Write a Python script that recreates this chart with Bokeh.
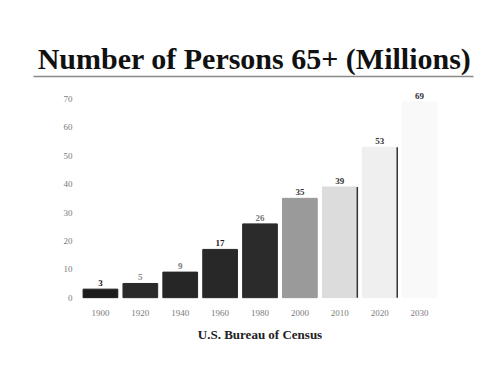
from bokeh.plotting import figure
from bokeh.models import ColumnDataSource, Range1d, FactorRange, FixedTicker
from bokeh.layouts import column
from bokeh.transform import dodge
from bokeh.core.properties import value
from bokeh.embed import file_html
from bokeh.resources import INLINE

years = ["1900", "1920", "1940", "1960", "1980", "2000", "2010", "2020", "2030"]
persons = [3, 5, 9, 17, 26, 35, 39, 53, 69]
bar_colors = ["#1c1c1c", "#2a2a2a", "#262626", "#282828", "#2b2b2b", "#9a9a9a", "#dcdcdc", "#efefef", "#f9f9f9"]
label_colors = ["#111111", "#888888", "#777777", "#222222", "#777777", "#333333", "#333333", "#333333", "#333333"]
edge_years = ["2010", "2020"]
edge_values = [39, 53]
y_ticks = [0, 10, 20, 30, 40, 50, 60, 70]

title_text = "Number of Persons 65+ (Millions)"
source_text = "U.S. Bureau of Census"
SERIF = "Liberation Serif"

# --- title panel ---
t = figure(width=486, height=85, x_range=Range1d(0, 486), y_range=Range1d(85, 0),
           output_backend="svg", toolbar_location=None, min_border=0)
t.frame_align = False
t.axis.visible = False
t.grid.visible = False
t.outline_line_color = None
t.background_fill_color = "white"
t.border_fill_color = "white"
t.text(x=[254], y=[58], text=[title_text], text_font=value(SERIF), text_font_style="bold",
       text_font_size="30px", text_align="center", text_baseline="middle", text_color="#111111")
t.segment(x0=[33], y0=[76], x1=[473], y1=[76], line_color="#8a8a8a", line_width=1.5)

# --- bar chart ---
src = ColumnDataSource(dict(year=years, val=persons, color=bar_colors, lcolor=label_colors))
p = figure(width=486, height=280, x_range=FactorRange(*years, range_padding=0),
           y_range=Range1d(-1, 73), output_backend="svg", toolbar_location=None,
           min_border_left=80, min_border_right=47, min_border_top=5, min_border_bottom=65)
p.frame_align = False
p.vbar(x="year", top="val", bottom=0, width=0.87, color="color", source=src)
p.segment(x0=dodge("year", 0.44, range=p.x_range), y0=0,
          x1=dodge("year", 0.44, range=p.x_range), y1="val",
          source=ColumnDataSource(dict(year=edge_years, val=edge_values)),
          line_color="#333333", line_width=1.5)
p.text(x="year", y="val", text="val", source=src, text_font=value(SERIF), text_font_style="bold",
       text_font_size="9px", text_align="center", text_baseline="bottom", y_offset=-3,
       text_color="lcolor")

p.grid.visible = False
p.outline_line_color = None
p.background_fill_color = "white"
p.border_fill_color = "white"
p.yaxis.ticker = FixedTicker(ticks=y_ticks)
for ax in (p.xaxis[0], p.yaxis[0]):
    ax.axis_line_color = None
    ax.major_tick_line_color = None
    ax.minor_tick_line_color = None
    ax.major_label_text_font = SERIF
    ax.major_label_text_font_size = "9px"
    ax.major_label_text_color = "#7a7a7a"
p.yaxis.major_label_standoff = 2
p.xaxis.major_label_standoff = 3
p.xaxis.axis_label = source_text
p.xaxis.axis_label_text_font = SERIF
p.xaxis.axis_label_text_font_style = "bold"
p.xaxis.axis_label_text_font_size = "13px"
p.xaxis.axis_label_text_color = "#222222"
p.xaxis.axis_label_standoff = 8

layout = column(t, p, spacing=0)
open("out.html", "w").write(file_html(layout, INLINE))
